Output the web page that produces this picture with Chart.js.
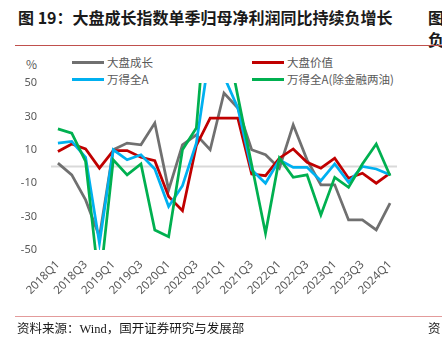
<!DOCTYPE html>
<html>
<head>
<meta charset="utf-8">
<script src="https://cdn.jsdelivr.net/npm/chart.js@4/dist/chart.umd.min.js"></script>
<style>
  body { margin: 0; width: 442px; height: 337px; overflow: hidden; background: #fff; position: relative; font-family: "Noto Sans CJK SC", "Noto Sans", sans-serif; }
  #chart { position: absolute; left: 0; top: 0; }
  .title { position: absolute; left: 18px; top: 5px; font-size: 16px; font-weight: bold; color: #1a1a1a; white-space: nowrap; }
  .side { position: absolute; left: 428px; font-size: 16px; font-weight: bold; color: #1a1a1a; }
  .rule { position: absolute; left: 15px; right: 0; height: 1px; }
  .unit { position: absolute; left: 26px; top: 55px; font-size: 12px; color: #595959; }
  .legend-item { position: absolute; display: flex; align-items: center; font-size: 11.5px; color: #595959; white-space: nowrap; }
  .legend-item .swatch { width: 32px; height: 3px; margin-right: 3px; }
  .source { position: absolute; left: 17px; top: 318px; font-size: 12.5px; color: #1a1a1a; font-family: "Liberation Serif", "Noto Sans CJK SC", serif; white-space: nowrap; }
  .source-side { position: absolute; left: 428px; top: 318px; font-size: 12.5px; color: #1a1a1a; }
</style>
</head>
<body>
<div class="title">图 19：大盘成长指数单季归母净利润同比持续负增长</div>
<div class="side" style="top:5px">图</div>
<div class="side" style="top:27px">负</div>
<div class="rule" style="top:45px; background:#c0504d"></div>
<div class="unit">%</div>
<div id="legend"></div>
<canvas id="chart" width="442" height="337"></canvas>
<div class="rule" style="top:316px; background:#e39b9b"></div>
<div class="source">资料来源：Wind，国开证券研究与发展部</div>
<div class="source-side">资</div>

<script>
// quarterly single-quarter net profit YoY, %
const quarters = ['2018Q1', '2018Q2', '2018Q3', '2018Q4', '2019Q1', '2019Q2', '2019Q3', '2019Q4',
    '2020Q1', '2020Q2', '2020Q3', '2020Q4', '2021Q1', '2021Q2', '2021Q3', '2021Q4',
    '2022Q1', '2022Q2', '2022Q3', '2022Q4', '2023Q1', '2023Q2', '2023Q3', '2023Q4', '2024Q1'];

const largeGrowth = [2, -5, -20, -42, 10, 14, 13, 26, -14, 13, 19, 10, 44, 35, 10, 7,
    -1, 25, 4, -11, -11, -32, -32, -38, -22];
const largeValue = [9, 13.5, 10.5, -1, 9.5, 9.5, 5.5, 3.5, -18, -26.5, 12.5, 29, 29, 29, -4.5, -5.5,
    5, 10.5, 2.5, -1, 5, -7, -4, -10, -4];
const windAllA = [14, 15, 5.5, -46, 10, 4, 7, -1.5, -24, -11.5, 14, 70, 54, 35, -2, -10,
    4, -0.5, -0.5, -8.5, 1.5, -9.5, 0, -1.5, -5];
const windAllAExFin = [22.5, 20, 3, -72, 4, -5, 1.5, -38, -42, 10, 23, 121, 84, 42, 1, -40,
    5, -6.5, -5, -29, -6.5, -12.5, 1.5, 13.5, -5.5];

const seriesNames = ['大盘成长', '大盘价值', '万得全A', '万得全A(除金融两油)'];
const yTicks = [50, 30, 10, -10, -30, -50];

const colors = ['#707070', '#c00000', '#00b0f0', '#00b050'];
const legendPos = [[72, 62], [252, 62], [72, 79], [252, 79]];

// legend laid out in two columns
const legendBox = document.getElementById('legend');
seriesNames.forEach(function(name, i) {
    const item = document.createElement('div');
    item.className = 'legend-item';
    item.style.left = legendPos[i][0] + 'px';
    item.style.top = (legendPos[i][1] - 8) + 'px';
    item.style.height = '16px';
    item.innerHTML = '<span class="swatch" style="background:' + colors[i] + '"></span><span>' + name + '</span>';
    legendBox.appendChild(item);
});

// horizontal axis line through zero
const zeroLine = {
    id: 'zeroLine',
    beforeDatasetsDraw(chart) {
        const y = chart.scales.y.getPixelForValue(0);
        const area = chart.chartArea;
        const ctx = chart.ctx;
        ctx.save();
        ctx.strokeStyle = '#d9d9d9';
        ctx.lineWidth = 2;
        ctx.beginPath();
        ctx.moveTo(area.left, y);
        ctx.lineTo(area.right, y);
        ctx.stroke();
        ctx.restore();
    }
};

const allSeries = [largeGrowth, largeValue, windAllA, windAllAExFin];

new Chart(document.getElementById('chart'), {
    type: 'line',
    data: {
        labels: quarters,
        datasets: allSeries.map(function(values, i) {
            return {
                label: seriesNames[i],
                data: values,
                borderColor: colors[i],
                backgroundColor: colors[i],
                borderWidth: 2.75,
                pointRadius: 0,
                tension: 0,
                order: 4 - i
            };
        })
    },
    options: {
        responsive: false,
        animation: false,
        layout: { padding: { top: 83, right: 45, left: 0, bottom: 0 } },
        plugins: { legend: { display: false }, tooltip: { enabled: false } },
        scales: {
            x: {
                offset: true,
                grid: { display: false, drawTicks: false },
                border: { display: false },
                afterFit: function(scale) { scale.height = 87; },
                ticks: {
                    autoSkip: false,
                    minRotation: 45,
                    maxRotation: 45,
                    padding: 8,
                    color: '#595959',
                    font: { size: 11.5, family: 'Noto Sans' },
                    callback: function(value, index) {
                        return index % 2 === 0 ? quarters[index] : '';
                    }
                }
            },
            y: {
                min: -50,
                max: 50,
                grid: { display: false, drawTicks: false },
                border: { display: false },
                afterFit: function(scale) { scale.width = 51; },
                afterBuildTicks: function(scale) {
                    scale.ticks = yTicks.map(function(v) { return { value: v }; });
                },
                ticks: {
                    padding: 14,
                    color: '#595959',
                    font: { size: 11, family: 'Noto Sans' }
                }
            }
        }
    },
    plugins: [zeroLine]
});
</script>
</body>
</html>
